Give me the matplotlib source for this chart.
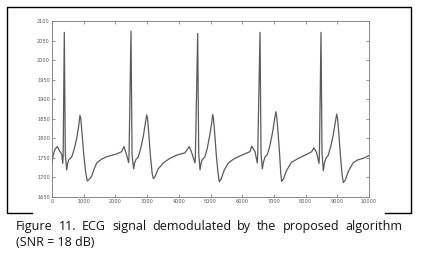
import matplotlib
matplotlib.use("Agg")
import matplotlib.pyplot as plt
from matplotlib.lines import Line2D

# ECG trace (sample index, amplitude)
ecg_x = [0, 40, 95, 170, 250, 305, 340, 352, 388, 420, 440, 463, 490, 536, 620,
         700, 780, 840, 883, 910, 950, 1000, 1063, 1114, 1160, 1252, 1330, 1410, 1550, 1725, 2040, 2198,
         2271, 2334, 2418, 2430, 2492, 2525, 2545, 2577, 2605, 2650, 2720,
         2800, 2880, 2940, 2987, 3015, 3055, 3105, 3160, 3197, 3250, 3350, 3512, 3700, 3933, 4196,
         4332, 4400, 4511, 4523, 4596, 4628, 4648, 4669, 4700, 4740, 4820,
         4900, 4970, 5030, 5069, 5095, 5135, 5185, 5240, 5278, 5330, 5430, 5563, 5750, 5984, 6246,
         6300, 6404, 6477, 6489, 6562, 6594, 6614, 6635, 6665, 6719, 6790,
         6870, 6950, 7010, 7060, 7090, 7130, 7180, 7215, 7245, 7300, 7400, 7560, 7800, 8034, 8192,
         8265, 8349, 8423, 8435, 8486, 8518, 8538, 8559, 8590, 8644, 8710,
         8790, 8870, 8930, 8980, 9010, 9050, 9100, 9150, 9190, 9250, 9350, 9505, 9650, 9820, 10000]
ecg_y = [1737, 1758, 1772, 1779, 1766, 1760, 1736, 1755, 2071, 1760, 1742, 1719, 1735, 1746, 1752,
         1772, 1800, 1830, 1859, 1850, 1810, 1760, 1712, 1691, 1694, 1703, 1722, 1737, 1746, 1753, 1760, 1766,
         1779, 1763, 1738, 1755, 2074, 1760, 1742, 1722, 1737, 1746, 1752,
         1775, 1805, 1835, 1860, 1850, 1810, 1755, 1710, 1697, 1702, 1722, 1737, 1748, 1757, 1763,
         1779, 1765, 1737, 1755, 2068, 1760, 1742, 1719, 1735, 1746, 1752,
         1775, 1805, 1835, 1861, 1850, 1810, 1755, 1710, 1689, 1695, 1718, 1737, 1748, 1757, 1766,
         1780, 1766, 1737, 1755, 2071, 1760, 1742, 1722, 1737, 1752, 1758,
         1780, 1812, 1842, 1868, 1855, 1815, 1760, 1712, 1690, 1696, 1718, 1739, 1750, 1759, 1766,
         1776, 1763, 1736, 1755, 2071, 1760, 1742, 1717, 1735, 1750, 1756,
         1778, 1808, 1838, 1862, 1850, 1810, 1755, 1708, 1687, 1693, 1716, 1738, 1745, 1749, 1756]

x_ticks = list(range(0, 10001, 1000))
y_ticks = list(range(1650, 2101, 50))

caption_line1 = "Figure 11. ECG signal demodulated by the proposed algorithm"
caption_line2 = "(SNR = 18 dB)"


def main():
    fig = plt.figure(figsize=(4.21, 2.60), dpi=100)
    W, H = 421, 260

    ax = fig.add_axes([52 / W, 1 - 197 / H, (369 - 52) / W, (197 - 21) / H])
    ax.plot(ecg_x, ecg_y, color="#5a5a5a", linewidth=0.9)
    ax.set_xlim(0, 10000)
    ax.set_ylim(1650, 2100)
    ax.set_xticks(x_ticks)
    ax.set_yticks(y_ticks)
    ax.tick_params(direction="in", length=2, width=0.5, colors="#666666",
                   labelsize=3.6, labelcolor="#555555", pad=1.5,
                   top=True, right=True)
    for s in ax.spines.values():
        s.set_color("#777777")
        s.set_linewidth(0.6)

    # outer frame around the figure block
    def px_line(xs, ys):
        fig.add_artist(Line2D([x / W for x in xs], [1 - y / H for y in ys],
                              color="black", linewidth=1.0, transform=fig.transFigure))
    px_line([32, 7, 7, 411, 411, 385], [213, 213, 7, 7, 213, 213])

    # justified first caption line
    font = dict(family=["Open Sans", "DejaVu Sans"], fontsize=9.0, color="#111111")
    words = caption_line1.split(" ")
    x0, x1 = 16, 402
    r = fig.canvas.get_renderer()
    texts = [fig.text(0, 1 - 230 / H, w, va="baseline", ha="left", **font) for w in words]
    widths = [t.get_window_extent(r).width for t in texts]
    gap = (x1 - x0 - sum(widths)) / (len(words) - 1)
    pos = x0
    for t, w in zip(texts, widths):
        t.set_x(pos / W)
        pos += w + gap
    fig.text(16 / W, 1 - 246.5 / H, caption_line2, va="baseline", ha="left", **font)

    fig.savefig("out.png", dpi=100)


if __name__ == "__main__":
    main()
